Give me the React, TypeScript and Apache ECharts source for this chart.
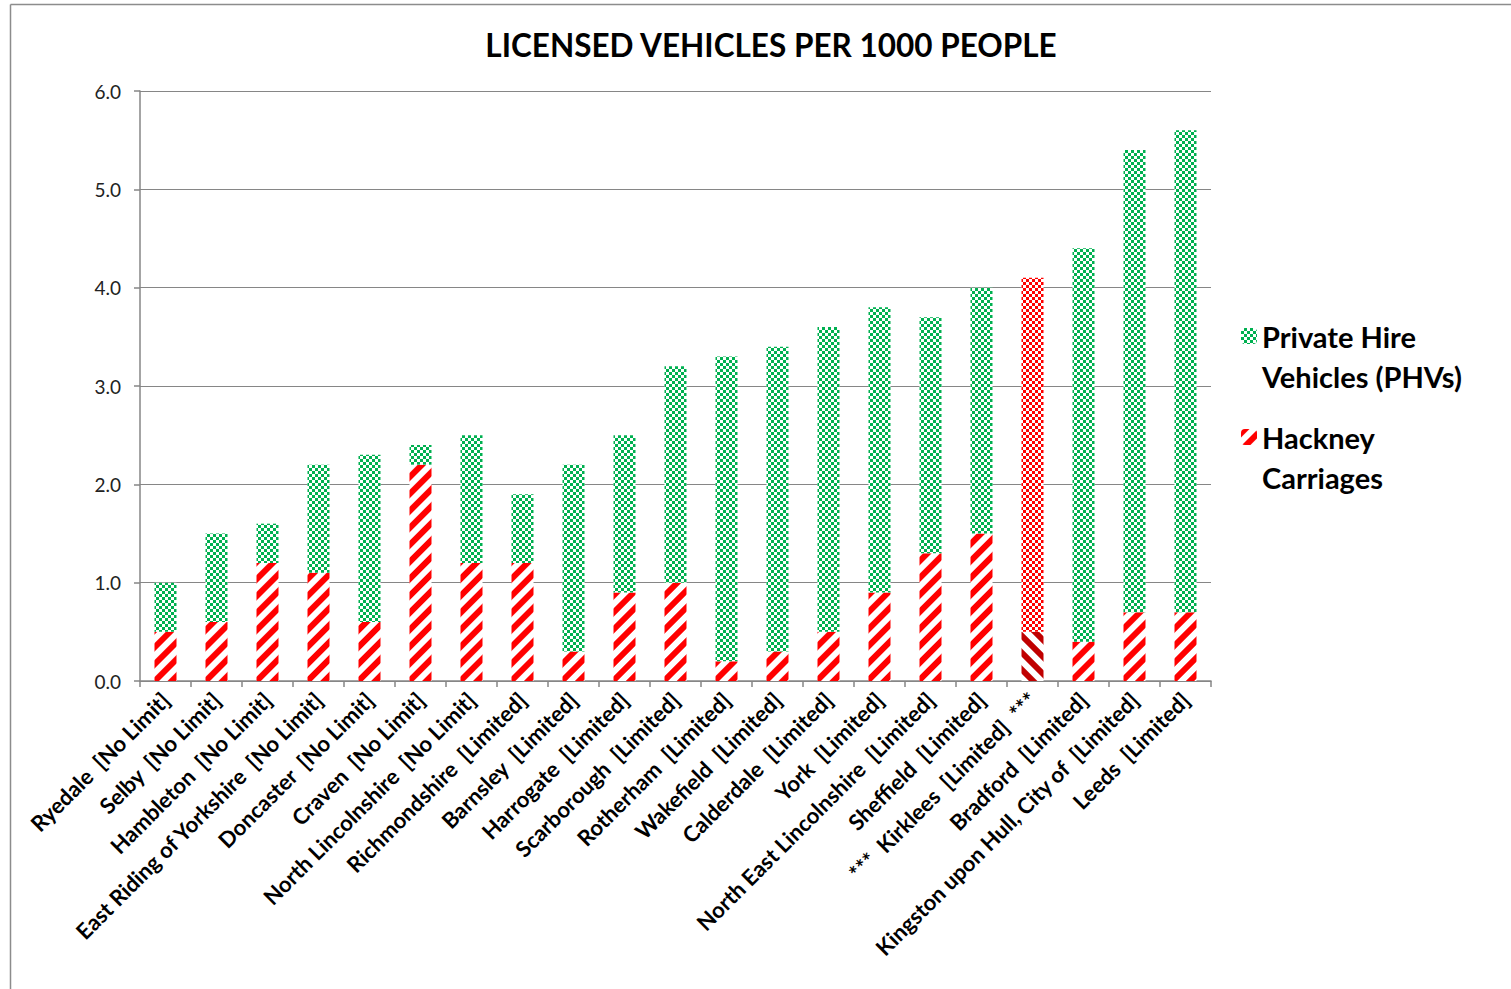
import React, { useEffect, useRef } from "react";
import * as echarts from "echarts";

const categories = [
  "Ryedale  [No Limit]",
  "Selby  [No Limit]",
  "Hambleton  [No Limit]",
  "East Riding of Yorkshire  [No Limit]",
  "Doncaster  [No Limit]",
  "Craven  [No Limit]",
  "North Lincolnshire  [No Limit]",
  "Richmondshire  [Limited]",
  "Barnsley  [Limited]",
  "Harrogate  [Limited]",
  "Scarborough  [Limited]",
  "Rotherham  [Limited]",
  "Wakefield  [Limited]",
  "Calderdale  [Limited]",
  "York  [Limited]",
  "North East Lincolnshire  [Limited]",
  "Sheffield  [Limited]",
  "***  Kirklees  [Limited]  ***",
  "Bradford  [Limited]",
  "Kingston upon Hull, City of  [Limited]",
  "Leeds  [Limited]",
];

const hackney = [0.5, 0.6, 1.2, 1.1, 0.6, 2.2, 1.2, 1.2, 0.3, 0.9, 1.0, 0.2, 0.3, 0.5, 0.9, 1.3, 1.5, 0.5, 0.4, 0.7, 0.7];
const phv = [0.5, 0.9, 0.4, 1.1, 1.7, 0.2, 1.3, 0.7, 1.9, 1.6, 2.2, 3.1, 3.1, 3.1, 2.9, 2.4, 2.5, 3.6, 4.0, 4.7, 4.9];

const yTicks = [0, 1, 2, 3, 4, 5, 6];
const highlightIndex = 17;

const seriesNames = ["Private Hire Vehicles (PHVs)", "Hackney Carriages"];

const checker = (color: string) => ({
  symbol: "rect",
  symbolSize: 1,
  color,
  dashArrayX: [[3, 3], [0, 3, 3, 0]],
  dashArrayY: [3, 0],
  rotation: 0,
});

const stripes = (color: string, rotation: number) => ({
  symbol: "rect",
  symbolSize: 1,
  color,
  dashArrayX: [1, 0],
  dashArrayY: [6, 6],
  rotation,
});

export default function App() {
  const ref = useRef<HTMLDivElement>(null);
  useEffect(() => {
    if (!ref.current) return;
    const chart = echarts.init(ref.current, null, { renderer: "svg" });
    const font = "Lato, 'Open Sans', sans-serif";
    const hackneyData = hackney.map((v, i) =>
      i === highlightIndex
        ? { value: v, itemStyle: { color: "#ffffff", decal: stripes("#C00000", Math.PI / 4) } }
        : v
    );
    const phvData = phv.map((v, i) =>
      i === highlightIndex
        ? { value: v, itemStyle: { color: "#ffffff", decal: checker("#FF0000") } }
        : v
    );
    chart.setOption({
      animation: false,
      backgroundColor: "#ffffff",
      title: {
        text: "LICENSED VEHICLES PER 1000 PEOPLE",
        left: 766,
        textAlign: "center",
        top: 24,
        textStyle: { fontFamily: font, fontWeight: "bold", fontSize: 31.5, color: "#000000" },
      },
      legend: {
        orient: "vertical",
        left: 1236,
        top: 314,
        itemWidth: 16,
        itemHeight: 16,
        itemGap: 67,
        data: [seriesNames[0], seriesNames[1]],
        formatter: (name: string) => (name === seriesNames[0] ? "Private Hire" : "Hackney"),
        textStyle: { fontFamily: font, fontWeight: "bold", fontSize: 29, color: "#000000", lineHeight: 34 },
      },
      grid: { left: 140, right: 300, top: 91, bottom: 308, containLabel: false },
      xAxis: {
        type: "category",
        data: categories,
        boundaryGap: true,
        axisLine: { lineStyle: { color: "#868686", width: 1.5 } },
        axisTick: { show: true, length: 6, lineStyle: { color: "#868686", width: 1.5 } },
        axisLabel: {
          interval: 0,
          rotate: 45,
          margin: 15,
          fontFamily: font,
          fontWeight: "bold",
          fontSize: 22,
          color: "#000000",
        },
      },
      yAxis: {
        type: "value",
        min: yTicks[0],
        max: yTicks[yTicks.length - 1],
        interval: 1,
        axisLine: { show: true, lineStyle: { color: "#868686", width: 1.5 } },
        axisTick: { show: true, length: 6, lineStyle: { color: "#868686", width: 1.5 } },
        splitLine: { lineStyle: { color: "#868686", width: 1 } },
        axisLabel: {
          formatter: (v: number) => v.toFixed(1),
          fontFamily: font,
          fontSize: 19,
          color: "#222222",
          margin: 19,
        },
      },
      series: [
        {
          name: seriesNames[1],
          type: "bar",
          stack: "total",
          barWidth: 22,
          data: hackneyData,
          itemStyle: { color: "#ffffff", decal: stripes("#FF0000", -Math.PI / 4) },
        },
        {
          name: seriesNames[0],
          type: "bar",
          stack: "total",
          barWidth: 22,
          data: phvData,
          itemStyle: { color: "#ffffff", decal: checker("#00B050") },
        },
      ],
      graphic: [
        { type: "line", shape: { x1: 10.5, y1: 4.5, x2: 1511, y2: 4.5 }, style: { stroke: "#8c8c8c", lineWidth: 1.5 } },
        { type: "line", shape: { x1: 10.5, y1: 4.5, x2: 10.5, y2: 989 }, style: { stroke: "#8c8c8c", lineWidth: 1.5 } },
        {
          type: "text",
          x: 1262,
          y: 376,
          style: { text: "Vehicles (PHVs)", font: `bold 29px ${font}`, fill: "#000000", verticalAlign: "middle" },
        },
        {
          type: "text",
          x: 1262,
          y: 477,
          style: { text: "Carriages", font: `bold 29px ${font}`, fill: "#000000", verticalAlign: "middle" },
        },
      ],
    });
    return () => chart.dispose();
  }, []);
  return (
    <div
      ref={ref}
      style={{ position: "fixed", left: 0, top: 0, width: 1511, height: 989, whiteSpace: "pre" }}
    />
  );
}
